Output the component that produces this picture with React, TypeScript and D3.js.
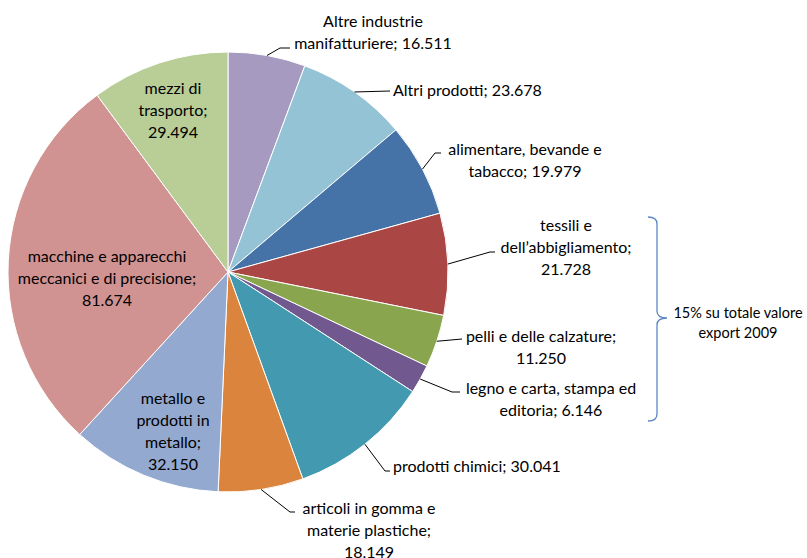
import React from "react";
import * as d3 from "d3";

const categories = [
  "Altre industrie manifatturiere",
  "Altri prodotti",
  "alimentare, bevande e tabacco",
  "tessili e dell’abbigliamento",
  "pelli e delle calzature",
  "legno e carta, stampa ed editoria",
  "prodotti chimici",
  "articoli in gomma e materie plastiche",
  "metallo e prodotti in metallo",
  "macchine e apparecchi meccanici e di precisione",
  "mezzi di trasporto",
];
const values = [16511, 23678, 19979, 21728, 11250, 6146, 30041, 18149, 32150, 81674, 29494];
const colors = [
  "#A69AC0", "#93C3D5", "#4573A8", "#AA4744", "#89A54E", "#71588F",
  "#4299B0", "#DB843D", "#93A9D0", "#D19392", "#B9CD97",
];
// label text broken into lines; "{v}" is replaced by the formatted value
const labelTemplates = [
  "Altre industrie|manifatturiere; {v}",
  "Altri prodotti; {v}",
  "alimentare, bevande e|tabacco; {v}",
  "tessili e|dell’abbigliamento;|{v}",
  "pelli e delle calzature;|{v}",
  "legno e carta, stampa ed|editoria; {v}",
  "prodotti chimici; {v}",
  "articoli in gomma e|materie plastiche;|{v}",
  "metallo e|prodotti in|metallo;|{v}",
  "macchine e apparecchi|meccanici e di precisione;|{v}",
  "mezzi di|trasporto;|{v}",
];
const braceLines = ["15% su totale valore", "export 2009"];

// layout (positions) for labels
type Lay = { x: number; y: number; anchor: string; elbow?: [number, number]; end?: [number, number] };
const layout: Lay[] = [
  { x: 373, y: 20, anchor: "middle", elbow: [280, 48], end: [290, 48] },
  { x: 393, y: 89, anchor: "start", end: [390, 91] },
  { x: 525, y: 148, anchor: "middle", elbow: [435, 153], end: [441, 153] },
  { x: 566, y: 224, anchor: "middle", elbow: [490, 252], end: [495, 252] },
  { x: 541, y: 335, anchor: "middle", end: [462, 339] },
  { x: 551, y: 387, anchor: "middle", elbow: [452, 392], end: [460, 392] },
  { x: 393, y: 465, anchor: "start", elbow: [385, 471], end: [390, 471] },
  { x: 369, y: 507, anchor: "middle", elbow: [290, 512], end: [295, 512] },
  { x: 173, y: 397, anchor: "middle" },
  { x: 107, y: 255, anchor: "middle" },
  { x: 173, y: 87, anchor: "middle" },
];

const W = 807;
const H = 558;
const cx = 228;
const cy = 272;
const R = 220;
const lineH = 22;

const itLocale = d3.formatLocale({ decimal: ",", thousands: ".", grouping: [3], currency: ["€", ""] });
const fmt = itLocale.format(",");

export default function App() {
  const pie = d3.pie<number>().sort(null).value((d) => d)(values);
  const arc = d3.arc<d3.PieArcDatum<number>>().innerRadius(0).outerRadius(R);
  const font = "Lato, 'Open Sans', sans-serif";

  return (
    <svg width={W} height={H} style={{ position: "absolute", left: 0, top: 0, background: "#fff" }}>
      <g transform={`translate(${cx},${cy})`}>
        {pie.map((p, i) => (
          <path key={i} d={arc(p) || ""} fill={colors[i]} stroke="#fff" strokeWidth={1} />
        ))}
      </g>
      {pie.map((p, i) => {
        const L = layout[i];
        if (!L.end) return null;
        const a = (p.startAngle + p.endAngle) / 2;
        const sx = cx + R * Math.sin(a);
        const sy = cy - R * Math.cos(a);
        const pts: [number, number][] = [[sx, sy]];
        if (L.elbow) pts.push(L.elbow);
        pts.push(L.end);
        return (
          <path key={"l" + i} d={d3.line()(pts) || ""} fill="none" stroke="#000" strokeWidth={1} />
        );
      })}
      {values.map((v, i) => {
        const L = layout[i];
        const lines = labelTemplates[i].replace("{v}", fmt(v)).split("|");
        return (
          <text key={"t" + i} fontFamily={font} fontSize={16} fill="#000" textAnchor={L.anchor} aria-label={categories[i]}>
            {lines.map((ln, j) => (
              <tspan key={j} x={L.x} y={L.y + j * lineH} dominantBaseline="central">
                {ln}
              </tspan>
            ))}
          </text>
        );
      })}
      <path
        d="M648,217 Q657,217 657,224 L657,311 Q657,318 667,318 Q657,318 657,325 L657,414 Q657,421 648,421"
        fill="none"
        stroke="#5B87C5"
        strokeWidth={1.3}
      />
      <text fontFamily={font} fontSize={14.5} fill="#000" textAnchor="middle">
        {braceLines.map((ln, j) => (
          <tspan key={j} x={738} y={312 + j * 20} dominantBaseline="central">
            {ln}
          </tspan>
        ))}
      </text>
    </svg>
  );
}
